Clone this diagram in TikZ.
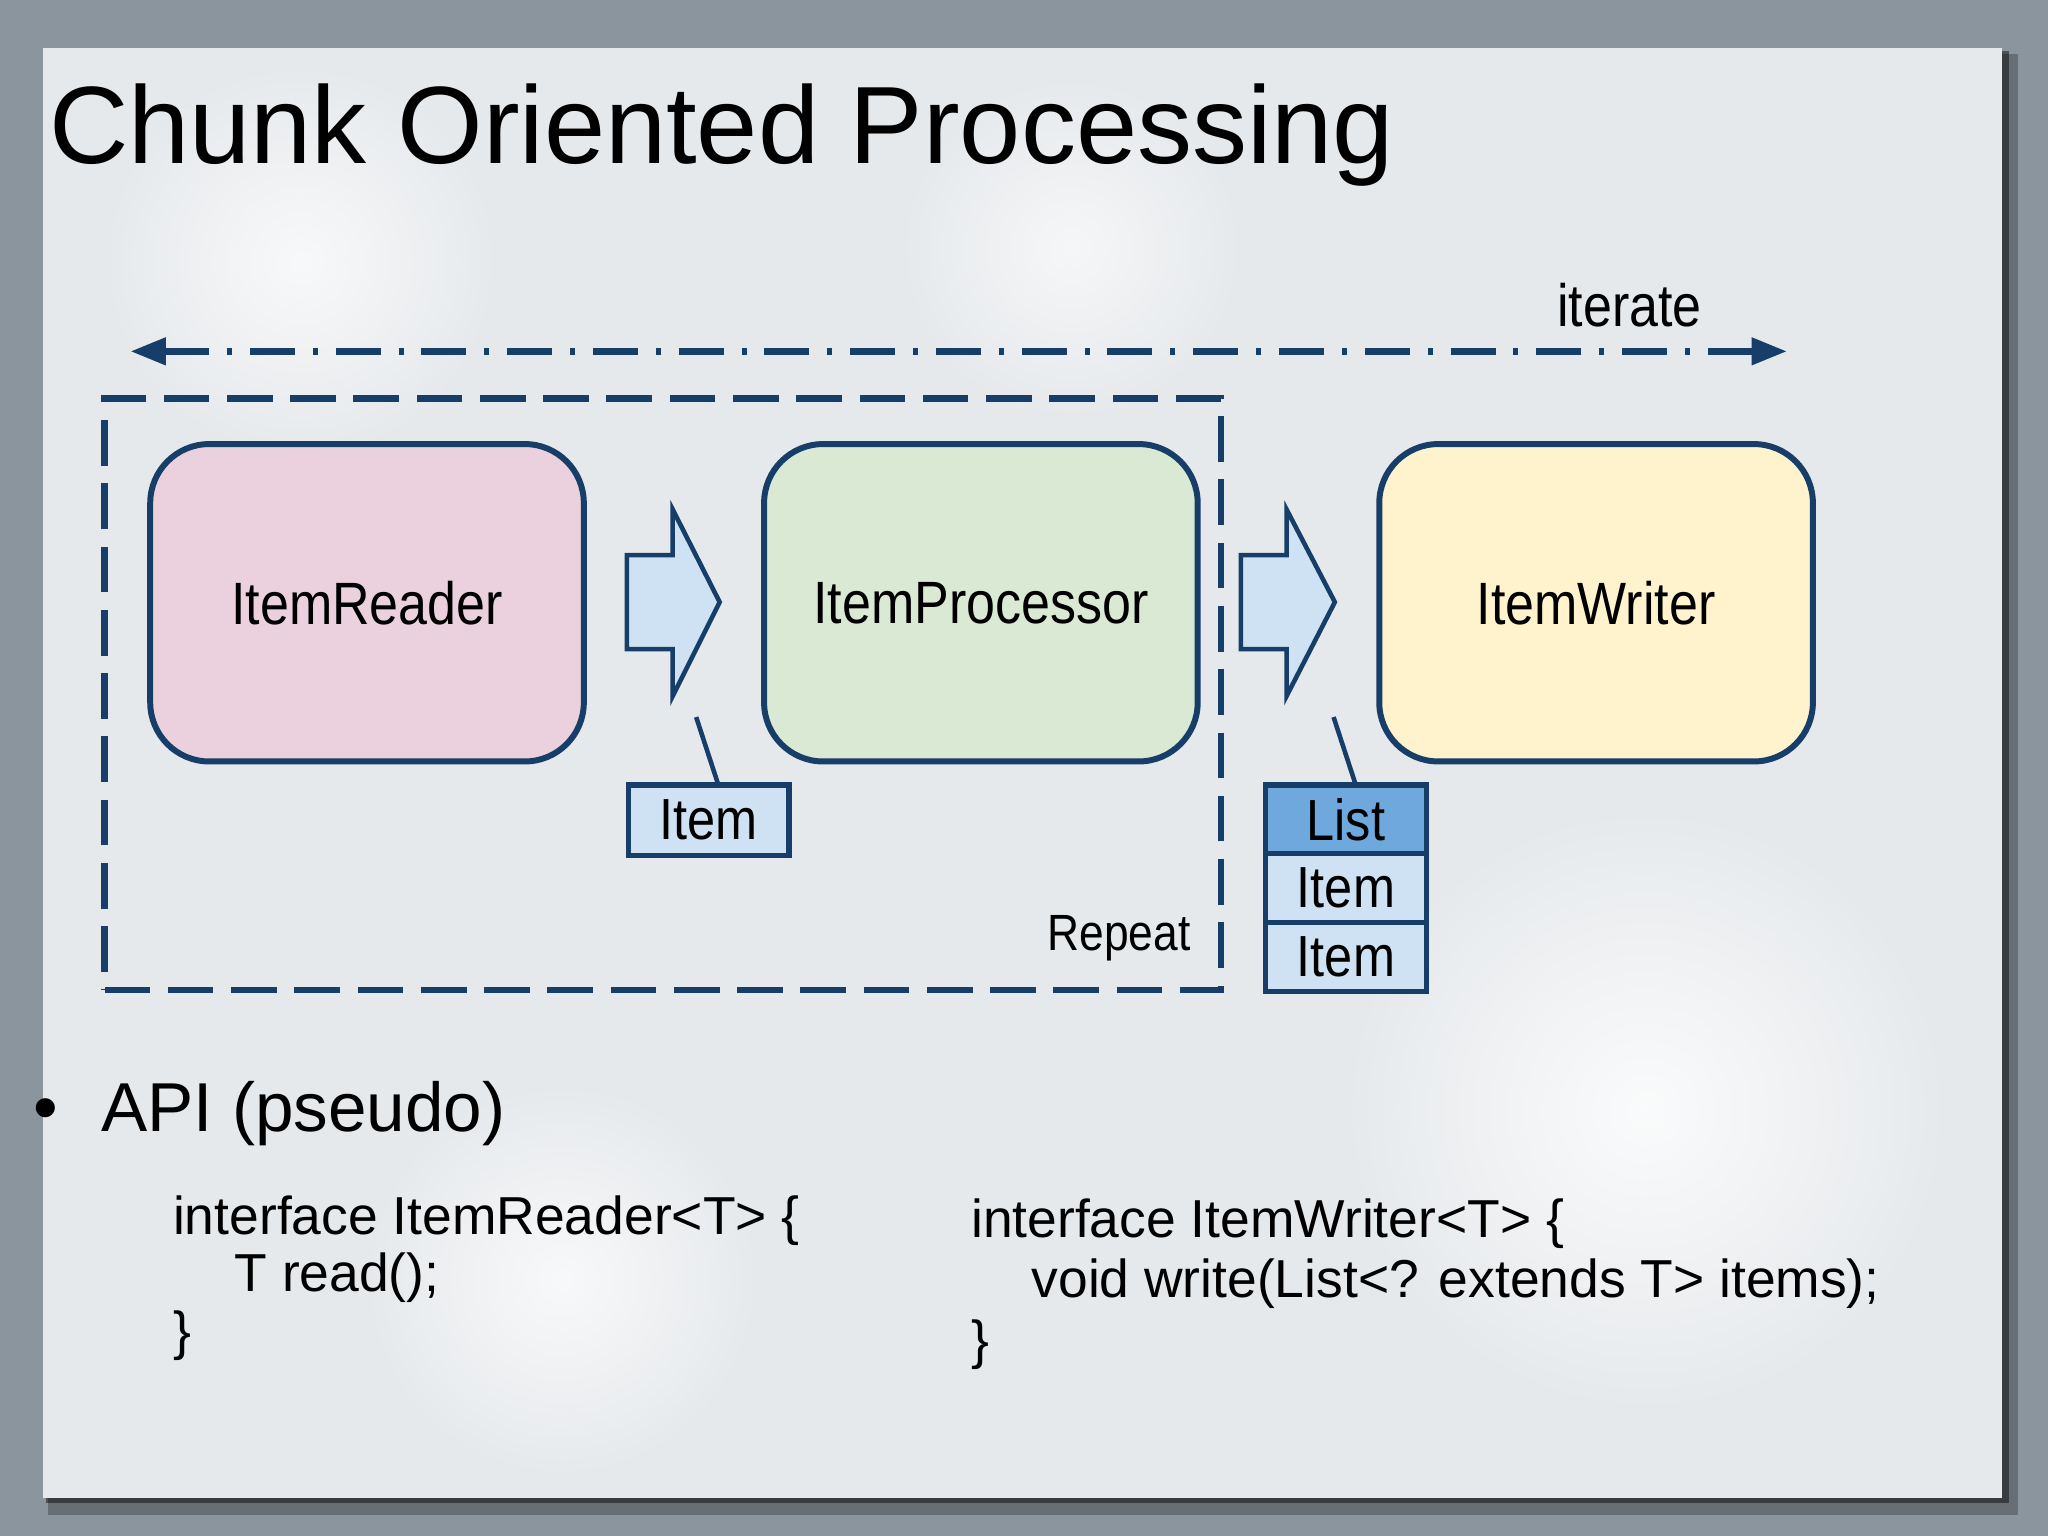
\documentclass[tikz,border=0pt]{standalone}
\usepackage{fontspec}
\setmainfont{Liberation Sans}
\newfontfamily\diagfont[FakeStretch=0.87]{Liberation Sans}
\usetikzlibrary{positioning,arrows.meta}

\definecolor{navy}{RGB}{22,62,104}
\definecolor{readerpink}{RGB}{234,209,221}
\definecolor{procgreen}{RGB}{217,233,212}
\definecolor{writeryellow}{RGB}{255,243,206}
\definecolor{flowblue}{RGB}{207,226,243}
\definecolor{listblue}{RGB}{111,168,220}
\definecolor{slidebg}{RGB}{230,233,236}
\definecolor{framegrey}{RGB}{138,149,157}

\begin{document}
\begin{tikzpicture}[x=0.013061cm, y=-0.013061cm,
	stage/.style = { rectangle, rounded corners=0.59cm, draw=navy,
	line width=1.7pt, minimum width=4.336cm, minimum height=3.174cm,
	font=\diagfont\fontsize{17}{20}\selectfont },
	tagbox/.style = { rectangle, draw=navy, line width=1.5pt, fill=flowblue,
	minimum width=1.607cm, minimum height=0.688cm, inner sep=0pt, outer sep=0pt,
	font=\diagfont\fontsize{16.5}{19}\selectfont },
	flowarrow/.style = { draw=navy, line width=1.3pt, fill=flowblue },
	callout/.style = { draw=navy, line width=1.3pt },
	codeblock/.style = { anchor=north west, inner sep=0pt, align=left } ]

  % slide
  \useasboundingbox (0,0) rectangle (1568,1176);
  \fill[framegrey] (0,0) rectangle (1568,1176);
  \fill[black, opacity=0.25] (37,41) rectangle (1545,1160);
  \fill[black, opacity=0.45] (35,39) rectangle (1538,1151);
  \fill[slidebg] (33,37) rectangle (1533,1147);
  \begin{scope}
    \clip (33,37) rectangle (1533,1147);
    \shade[inner color=white!80!slidebg, outer color=slidebg] (1260,850) circle (230);
    \shade[inner color=white!70!slidebg, outer color=slidebg] (430,980) circle (150);
    \shade[inner color=white!70!slidebg, outer color=slidebg] (230,200) circle (150);
    \shade[inner color=white!60!slidebg, outer color=slidebg] (820,190) circle (130);
  \end{scope}

  \node [name=title, anchor=base west, inner sep=0pt,
	font=\fontsize{31.3}{36}\selectfont] at (37,125)
	{Chunk Oriented Processing};

  % iterate
  \coordinate (iterL) at (100,269);
  \coordinate (iterR) at (1368,269);
  \draw [navy, line width=1.8pt, dash pattern=on 12.8pt off 5.1pt on 1.4pt off 5.1pt,
	{Triangle[length=10pt, width=7.5pt]}-{Triangle[length=10pt, width=7.5pt]}]
	(iterL) -- (iterR);
  \node [name=iterlabel, anchor=base, inner sep=0pt,
	font=\diagfont\fontsize{17}{20}\selectfont] at (1247.5,250) { iterate };

  % repeat loop
  \node [name=loopbox, draw=navy, line width=1.8pt, dash pattern=on 13pt off 5pt,
	minimum width=11.167cm, minimum height=5.917cm] at (507.5,531.5) {};
  \node [name=repeat, anchor=base east, inner sep=0pt,
	font=\diagfont\fontsize{14.5}{17}\selectfont] at (912,728) { Repeat };

  \node [name=reader, stage, fill=readerpink] at (281,461.5) { ItemReader };
  \node [name=processor, stage, fill=procgreen] at (751,461.5) { ItemProcessor };
  \node [name=writer, stage, fill=writeryellow] at (1222,461.5) { ItemWriter };

  \draw [flowarrow] (480,425) -- (515,425) -- (515,390) -- (551,461)
	-- (515,533) -- (515,497) -- (480,497) -- cycle;
  \draw [flowarrow] (950,425) -- (985,425) -- (985,390) -- (1022,461)
	-- (985,533) -- (985,497) -- (950,497) -- cycle;

  \node [name=item, tagbox, minimum height=0.705cm] at (542.5,628) { Item };
  \node [name=list, tagbox, fill=listblue] at (1030.5,627.3) { List };
  \node [name=listitemA, tagbox, below=0pt of list] { Item };
  \node [name=listitemB, tagbox, below=0pt of listitemA] { Item };

  \coordinate (tagA) at (533,549);
  \coordinate (tagB) at (1021,549);
  \draw [callout] (tagA) -- ([xshift=0.098cm]item.north);
  \draw [callout] (tagB) -- ([xshift=0.098cm]list.north);

  % api
  \node [name=bullet, anchor=base west, inner sep=0pt,
	font=\fontsize{20}{24}\selectfont] at (25,866) {•};
  \node [name=api, anchor=base west, inner sep=0pt,
	font=\fontsize{19.7}{24}\selectfont] at (77,866) {API (pseudo)};

  \node [name=readercode, codeblock, font=\fontsize{15.2}{16.35}\selectfont]
	at (132,915) {interface ItemReader<T> \{\\
	\hspace*{17.5pt}T read();\\
	\}};
  \node [name=writercode, codeblock, font=\fontsize{15.2}{17.3}\selectfont]
	at (743,917) {interface ItemWriter<T> \{\\
	\hspace*{17.2pt}void write(List<? extends T> items);\\
	\}};
\end{tikzpicture}
\end{document}
